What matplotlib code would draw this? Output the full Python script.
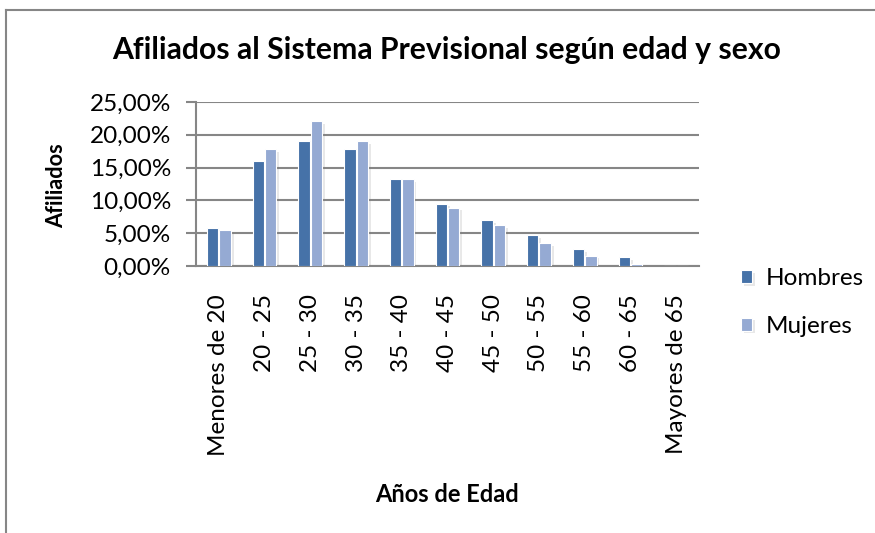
import numpy as np
import matplotlib.pyplot as plt
import matplotlib.patheffects as pe
from matplotlib.lines import Line2D
from matplotlib.ticker import FuncFormatter

# Datos: porcentaje de afiliados por tramo de edad
tramos = ["Menores de 20", "20 - 25", "25 - 30", "30 - 35", "35 - 40", "40 - 45",
          "45 - 50", "50 - 55", "55 - 60", "60 - 65", "Mayores de 65"]
hombres = [5.85, 16.0, 19.05, 17.8, 13.2, 9.5, 7.05, 4.7, 2.55, 1.3, 0.05]
mujeres = [5.55, 17.8, 22.1, 19.05, 13.2, 8.9, 6.25, 3.5, 1.6, 0.25, 0.03]

plt.rcParams['font.family'] = ['Lato', 'DejaVu Sans']

W, H = 875, 533
fig = plt.figure(figsize=(W / 100, H / 100), dpi=100)
ax = fig.add_axes([196 / W, 1 - 266 / H, 503 / W, 164 / H])

# marco exterior (solo borde izquierdo y superior visibles)
borde = dict(color='#868686', linewidth=1.5, transform=fig.transFigure)
fig.lines.append(Line2D([6 / W, 6 / W], [0, 1 - 10 / H], **borde))
fig.lines.append(Line2D([6 / W, 1], [1 - 10 / H, 1 - 10 / H], **borde))

x = np.arange(len(tramos))
sombra = [pe.SimplePatchShadow(offset=(2, -2), alpha=0.18, shadow_rgbFace='gray'), pe.Normal()]
ax.bar(x - 0.135, np.array(hombres) / 100, width=0.25, color='#4672A8', edgecolor='white',
       linewidth=0.8, label='Hombres', path_effects=sombra, zorder=3)
ax.bar(x + 0.135, np.array(mujeres) / 100, width=0.25, color='#95AAD3', edgecolor='white',
       linewidth=0.8, label='Mujeres', path_effects=sombra, zorder=3)

ax.set_xlim(-0.5, len(tramos) - 0.5)
ax.set_ylim(0, 0.25)
ax.set_yticks(np.arange(0, 0.2501, 0.05))
ax.yaxis.set_major_formatter(FuncFormatter(lambda v, p: f"{v * 100:.2f}%".replace('.', ',')))
ax.grid(axis='y', color='#868686', linewidth=1.5, zorder=0)
ax.set_axisbelow(True)

for s in ['top', 'right']:
    ax.spines[s].set_visible(False)
for s in ['left', 'bottom']:
    ax.spines[s].set_color('#868686')
    ax.spines[s].set_linewidth(1.5)

ax.set_xticks(x)
ax.set_xticklabels(tramos, rotation=90, fontsize=17.5)
ax.tick_params(axis='x', length=0, pad=20)
ax.tick_params(axis='y', labelsize=17.5, length=7, width=1.5, color='#868686', pad=11)

fig.text(447 / W, 1 - 50 / H, "Afiliados al Sistema Previsional según edad y sexo",
         fontsize=21.7, fontweight='bold', ha='center', va='center')
fig.text(57 / W, 1 - 186 / H, "Afiliados", fontsize=15.7, fontweight='bold',
         rotation=90, ha='center', va='center')
fig.text(447 / W, 1 - 494 / H, "Años de Edad", fontsize=17, fontweight='bold',
         ha='center', va='center')

fig.legend(loc='upper left', bbox_to_anchor=(741 / W, 1 - 268 / H), frameon=False, fontsize=17.5,
           handlelength=0.45, handleheight=0.45, handletextpad=0.55, labelspacing=1.1,
           borderaxespad=0, borderpad=0)

fig.savefig("out.png", dpi=100)
